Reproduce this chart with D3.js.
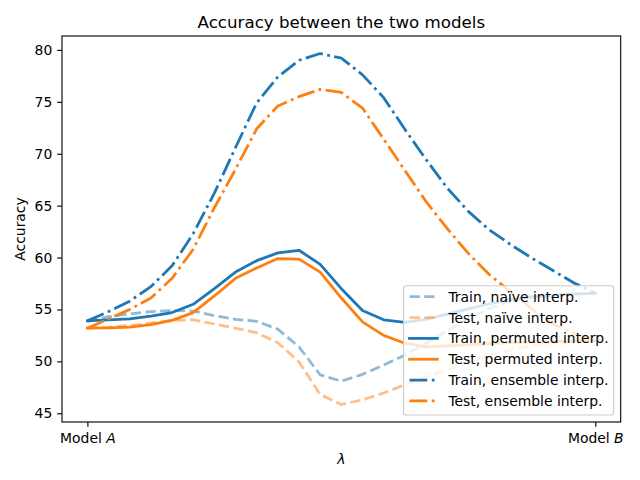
<!DOCTYPE html>
<html>
<head>
<meta charset="utf-8">
<script src="https://cdn.jsdelivr.net/npm/d3@7"></script>
<style>
  body { margin: 0; background: #fff; }
  text { font-family: "DejaVu Sans", sans-serif; fill: #000; }
</style>
</head>
<body>
<svg id="chart" width="640" height="480"></svg>
<script>
// ---- data ----
const steps = [0, 1, 2, 3, 4, 5, 6, 7, 8, 9, 10, 11, 12, 13, 14, 15, 16, 17, 18, 19, 20, 21, 22, 23, 24];
const xTickValues = [0, 24];
const xTickLabels = [["Model ", "A"], ["Model ", "B"]];
const yTickValues = [45, 50, 55, 60, 65, 70, 75, 80];

const trainNaive = [53.86, 54.3, 54.57, 54.8, 54.9, 54.85, 54.4, 54.05, 53.86, 53.1, 51.4, 48.7, 48.1, 48.75, 49.65, 50.6, 51.75, 52.95, 54.1, 55.1, 55.8, 56.2, 56.35, 56.5, 56.55];
const testNaive = [53.2, 53.3, 53.45, 53.7, 53.95, 54.0, 53.6, 53.2, 52.75, 51.8, 49.95, 46.8, 45.85, 46.3, 46.95, 47.75, 48.5, 49.2, 49.9, 50.6, 51.1, 51.5, 51.75, 51.9, 52.0];
const trainPermuted = [53.9, 54.0, 54.1, 54.35, 54.7, 55.5, 57.0, 58.6, 59.7, 60.45, 60.7, 59.35, 57.0, 54.9, 54.0, 53.75, 54.05, 54.55, 55.05, 55.55, 55.95, 56.2, 56.35, 56.5, 56.55];
const testPermuted = [53.2, 53.22, 53.3, 53.55, 53.95, 54.7, 56.3, 58.0, 59.0, 59.9, 59.85, 58.6, 56.1, 53.8, 52.5, 51.75, 51.4, 51.5, 51.6, 51.7, 51.8, 51.85, 51.9, 51.95, 52.0];
const trainEnsemble = [53.9, 54.8, 55.8, 57.2, 59.2, 62.3, 66.2, 70.6, 74.9, 77.4, 79.0, 79.65, 79.2, 77.6, 75.4, 72.35, 69.45, 66.7, 64.45, 62.65, 61.25, 59.95, 58.75, 57.55, 56.55];
const testEnsemble = [53.2, 54.1, 55.0, 56.1, 58.0, 60.8, 64.8, 68.5, 72.4, 74.6, 75.5, 76.2, 75.9, 74.4, 71.4, 68.4, 65.4, 62.8, 60.4, 58.35, 56.7, 55.05, 53.6, 52.7, 52.0];

const seriesNames = ["Train, naïve interp.", "Test, naïve interp.", "Train, permuted interp.", "Test, permuted interp.", "Train, ensemble interp.", "Test, ensemble interp."];
const seriesValues = [trainNaive, testNaive, trainPermuted, testPermuted, trainEnsemble, testEnsemble];

// ---- styles ----
const BLUE = "#1f77b4", ORANGE = "#ff7f0e";
const LW = 2.78;
const DASHED = [10.28, 4.44].join(",");
const DASHDOT = [17.8, 4.44, 2.78, 4.44].join(",");
const styles = [
  { color: BLUE, opacity: 0.5, dash: DASHED },
  { color: ORANGE, opacity: 0.5, dash: DASHED },
  { color: BLUE, opacity: 1, dash: null },
  { color: ORANGE, opacity: 1, dash: null },
  { color: BLUE, opacity: 1, dash: DASHDOT },
  { color: ORANGE, opacity: 1, dash: DASHDOT }
];

// ---- layout ----
const L = 62, R = 620.7, T = 36, B = 422;
const svg = d3.select("#chart");

const xPad = (steps[steps.length - 1] - steps[0]) * 0.05;
const x = d3.scaleLinear().domain([steps[0] - xPad, steps[steps.length - 1] + xPad]).range([L, R]);
const allVals = seriesValues.flat();
const [ymin, ymax] = d3.extent(allVals);
const yPad = (ymax - ymin) * 0.05;
const y = d3.scaleLinear().domain([ymin - yPad, ymax + yPad]).range([B, T]);

// lines
const line = d3.line().x((d, i) => x(steps[i])).y(d => y(d));
seriesValues.forEach((vals, k) => {
  const s = styles[k];
  svg.append("path")
    .datum(vals)
    .attr("d", line)
    .attr("fill", "none")
    .attr("stroke", s.color)
    .attr("stroke-opacity", s.opacity)
    .attr("stroke-width", LW)
    .attr("stroke-linejoin", "round")
    .attr("stroke-linecap", s.dash ? "butt" : "square")
    .attr("stroke-dasharray", s.dash);
});

// axes
const tickLen = 4.86, tickPad = 4.86;
const yAxis = d3.axisLeft(y).tickValues(yTickValues).tickSize(tickLen).tickPadding(tickPad).tickFormat(d3.format("d"));
const gy = svg.append("g").attr("transform", `translate(${L},0)`).call(yAxis);
gy.select(".domain").remove();
gy.selectAll("line").attr("stroke", "#000").attr("stroke-width", 1.11);
gy.selectAll("text").attr("font-size", "13.9px").attr("font-family", "DejaVu Sans").attr("fill", "#000");

const xAxis = d3.axisBottom(x).tickValues(xTickValues).tickSize(tickLen).tickPadding(tickPad).tickFormat(() => "");
const gx = svg.append("g").attr("transform", `translate(0,${B})`).call(xAxis);
gx.select(".domain").remove();
gx.selectAll("line").attr("stroke", "#000").attr("stroke-width", 1.11);
gx.selectAll(".tick text").each(function (d, i) {
  const t = d3.select(this).attr("font-size", "13.9px").attr("font-family", "DejaVu Sans").attr("fill", "#000")
    .attr("y", 20.5).attr("dy", null);
  t.append("tspan").text(xTickLabels[i][0]);
  t.append("tspan").attr("font-style", "italic").text(xTickLabels[i][1]);
});

// frame
svg.append("rect").attr("x", L).attr("y", T).attr("width", R - L).attr("height", B - T)
  .attr("fill", "none").attr("stroke", "#000").attr("stroke-width", 1.11);

// title & labels
svg.append("text").attr("x", (L + R) / 2).attr("y", 28.3).attr("text-anchor", "middle")
  .attr("font-size", "16.67px").text("Accuracy between the two models");
svg.append("text").attr("x", (L + R) / 2).attr("y", 463.5).attr("text-anchor", "middle")
  .attr("font-size", "13.9px").attr("font-style", "italic").text("λ");
svg.append("text").attr("transform", `translate(25,${(T + B) / 2}) rotate(-90)`).attr("text-anchor", "middle")
  .attr("font-size", "13.9px").text("Accuracy");

// legend
const fs = 13.9;
const lg = svg.append("g");
const rowH = 20.85;
const handleLen = 2 * fs, handlePad = 0.8 * fs, borderPad = 0.4 * fs;
const legRight = R - 0.5 * fs, legBottom = B - 0.5 * fs;
const nRows = seriesNames.length;
const legH = nRows * rowH - 0.5 * fs + 2 * borderPad + 0.5 * fs * 0; // approx
const frame = lg.append("rect");
const texts = [];
let maxW = 0;
seriesNames.forEach((name, k) => {
  const t = lg.append("text").attr("font-size", fs + "px").text(name);
  texts.push(t);
  maxW = Math.max(maxW, t.node().getComputedTextLength());
});
const legW = borderPad * 2 + handleLen + handlePad + maxW;
const legLeft = legRight - legW;
const legTop = 285.7;
frame.attr("x", legLeft).attr("y", legTop).attr("width", legRight - legLeft).attr("height", legBottom - legTop)
  .attr("rx", 2.8).attr("ry", 2.8)
  .attr("fill", "#fff").attr("fill-opacity", 0.8)
  .attr("stroke", "#cccccc").attr("stroke-width", 1.11);
seriesNames.forEach((name, k) => {
  const cy = 296.7 + k * rowH;
  const s = styles[k];
  const hx = legLeft + borderPad + 0.4;
  lg.append("line")
    .attr("x1", hx).attr("x2", hx + handleLen).attr("y1", cy).attr("y2", cy)
    .attr("stroke", s.color).attr("stroke-opacity", s.opacity).attr("stroke-width", LW)
    .attr("stroke-linecap", s.dash ? "butt" : "square")
    .attr("stroke-dasharray", s.dash);
  texts[k].attr("x", hx + handleLen + handlePad).attr("y", cy).attr("dy", "0.36em");
});
</script>
</body>
</html>
